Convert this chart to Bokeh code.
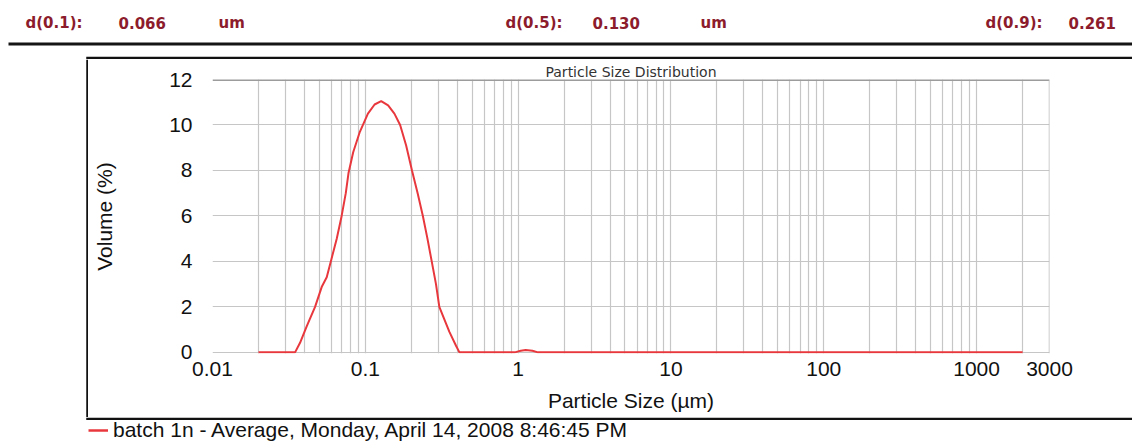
from bokeh.plotting import figure
from bokeh.layouts import column, row
from bokeh.models import Range1d, FixedTicker, Span, Legend, LegendItem
from bokeh.core.properties import value
from bokeh.embed import file_html
from bokeh.resources import INLINE

# particle size (um) and volume (%) of the averaged measurement
size_um = [0.02, 0.025, 0.03, 0.0347, 0.0374, 0.0414, 0.0469, 0.052, 0.0559,
           0.060, 0.065, 0.070, 0.0745, 0.0777, 0.0833, 0.0921, 0.104, 0.115,
           0.127, 0.141, 0.155, 0.169, 0.185, 0.202, 0.220, 0.238, 0.255,
           0.272, 0.290, 0.305, 0.327, 0.355, 0.393, 0.413, 0.5, 0.7, 0.95,
           1.04, 1.12, 1.24, 1.35, 2.0, 5.0, 10.0, 50.0, 100.0, 500.0, 1000.0,
           2000.0]
volume_pct = [0.0, 0.0, 0.0, 0.0, 0.42, 1.15, 2.0, 2.9, 3.3,
              4.1, 5.0, 6.0, 7.0, 7.9, 8.8, 9.7, 10.5, 10.9,
              11.05, 10.86, 10.5, 10.0, 9.1, 8.0, 7.0, 6.0, 5.0,
              4.0, 3.0, 2.0, 1.5, 0.9, 0.28, 0.0, 0.0, 0.0, 0.0,
              0.07, 0.1, 0.07, 0.0, 0.0, 0.0, 0.0, 0.0, 0.0, 0.0, 0.0,
              0.0]

x_ticks = [0.01, 0.1, 1, 10, 100, 1000, 3000]
x_tick_labels = ["0.01", "0.1", "1", "10", "100", "1000", "3000"]
y_ticks = [0, 2, 4, 6, 8, 10, 12]

summary_names = ["d(0.1):", "d(0.5):", "d(0.9):"]
summary_values = ["0.066", "0.130", "0.261"]
summary_units = ["um", "um"]
series_name = "batch 1n - Average, Monday, April 14, 2008 8:46:45 PM"

minor_x = [m * 10.0 ** e for e in range(-2, 4) for m in range(2, 10)
           if m * 10.0 ** e < 3000]

W = 1132
HDR_H, MAIN_H, FOOT_H = 59, 358, 25
BOX_X = 87.0           # left edge of the framed chart panel
STRIP_W = 88
RED = "#e8383d"
INK = "#111111"
LBL_FONT = "Liberation Sans"


def blank(width, height):
    """A bare figure whose data units are pixels, y growing downwards."""
    f = figure(width=width, height=height, x_range=Range1d(0, width),
               y_range=Range1d(height, 0), output_backend="svg",
               toolbar_location=None, min_border=0,
               x_axis_location=None, y_axis_location=None)
    f.outline_line_color = None
    f.grid.visible = False
    f.background_fill_color = "white"
    f.border_fill_color = "white"
    f.frame_align = False
    return f


# ---- report header: percentile sizes ----
hdr = blank(W, HDR_H)
hdr_col = "#8c1c2c"
hdr_texts = [summary_names[0], summary_values[0], summary_units[0],
             summary_names[1], summary_values[1], summary_units[1],
             summary_names[2], summary_values[2]]
hdr_x = [25, 118, 218, 505, 592, 700, 985, 1068]
hdr.text(x=hdr_x, y=[22] * len(hdr_x), text=hdr_texts,
         text_font=value("DejaVu Sans"), text_font_style="bold",
         text_font_size="15px", text_color=hdr_col, text_baseline="middle")
hdr.segment(x0=[8], y0=[43.5], x1=[W], y1=[43.5], line_color="#151515",
            line_width=3)
hdr.segment(x0=[BOX_X - 1.25], y0=[57.5], x1=[W], y1=[57.5], line_color=INK,
            line_width=2.5)

# ---- left edge of the chart panel ----
strip = blank(STRIP_W, MAIN_H)
strip.segment(x0=[BOX_X], y0=[0], x1=[BOX_X], y1=[MAIN_H], line_color=INK,
              line_width=2.5)

# ---- the distribution chart ----
FL, FR, FT, FB = 212, 1049, 79, 353   # frame edges on the page
p = figure(width=W - STRIP_W, height=MAIN_H, x_axis_type="log",
           x_range=Range1d(0.01, 3000), y_range=Range1d(-0.05, 12),
           output_backend="svg", toolbar_location=None,
           min_border_left=FL - STRIP_W, min_border_right=W - FR,
           min_border_top=FT - HDR_H, min_border_bottom=HDR_H + MAIN_H - FB,
           title="Particle Size Distribution")
p.background_fill_color = "white"
p.border_fill_color = "white"
p.outline_line_color = None
p.frame_align = False

p.title.align = "center"
p.title.text_font = "DejaVu Sans"
p.title.text_font_size = "14px"
p.title.text_font_style = "normal"
p.title.text_color = "#333333"
p.title.standoff = 0

xa = p.xaxis[0]
xa.ticker = FixedTicker(ticks=x_ticks, minor_ticks=minor_x)
xa.major_label_overrides = {t: s for t, s in zip(x_ticks, x_tick_labels)}
xa.axis_label = "Particle Size (\u00b5m)"
ya = p.yaxis[0]
ya.ticker = FixedTicker(ticks=y_ticks)
ya.axis_label = "Volume (%)"

for ax in (xa, ya):
    ax.axis_line_color = None
    ax.major_tick_line_color = None
    ax.minor_tick_line_color = None
    ax.major_label_text_font = LBL_FONT
    ax.major_label_text_font_size = "21px"
    ax.major_label_text_color = INK
    ax.axis_label_text_font = LBL_FONT
    ax.axis_label_text_font_size = "21px"
    ax.axis_label_text_font_style = "normal"
    ax.axis_label_text_color = INK
xa.major_label_standoff = 2
xa.axis_label_standoff = 10
ya.major_label_standoff = 14
ya.axis_label_standoff = 50

grid_col = "#c6c6c6"
p.xgrid.grid_line_color = grid_col
p.xgrid.minor_grid_line_color = grid_col
p.ygrid.grid_line_color = grid_col
p.xgrid.grid_line_width = 1.2
p.xgrid.minor_grid_line_width = 1.2
p.ygrid.grid_line_width = 1.2

# heavier top edge and right edge of the plotting area
p.add_layout(Span(location=12, dimension="width", line_color="#9c9c9c",
                  line_width=3))
p.add_layout(Span(location=3000, dimension="height", line_color="#bdbdbd",
                  line_width=1.5))

p.line(size_um, volume_pct, line_color=RED, line_width=2)

# ---- bottom edge of the panel and the series legend ----
foot = blank(W, FOOT_H)
foot.segment(x0=[BOX_X - 1.25], y0=[1.25], x1=[W], y1=[1.25], line_color=INK,
             line_width=2.5)
# key line kept outside the visible range; it only feeds the legend swatch
key = foot.line(x=[-40, -30], y=[-40, -40], line_color=RED, line_width=2.5)
legend = Legend(items=[LegendItem(label=series_name, renderers=[key])],
                location=(88, 0), orientation="horizontal",
                border_line_color=None, background_fill_alpha=0,
                padding=0, margin=0, spacing=0, label_standoff=5,
                glyph_width=20, glyph_height=20, label_height=20,
                label_text_font=LBL_FONT, label_text_font_size="21px",
                label_text_color=INK)
foot.add_layout(legend)

page = column(hdr, row(strip, p), foot)
open("out.html", "w").write(file_html(page, INLINE))
